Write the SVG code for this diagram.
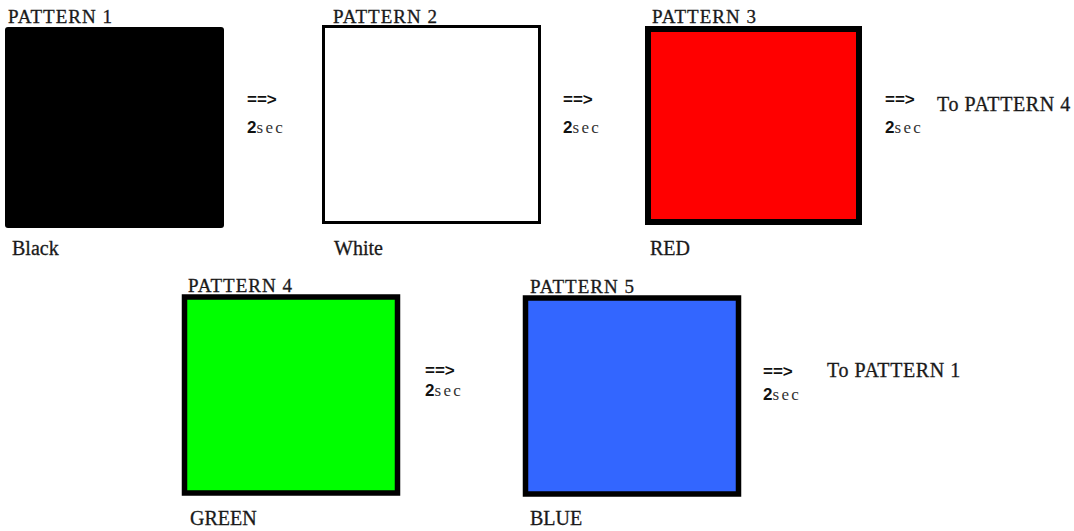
<svg xmlns="http://www.w3.org/2000/svg" width="1074" height="531" viewBox="0 0 1074 531">
<style>
.t{font-family:"Liberation Serif","Times New Roman",serif;font-size:19px;letter-spacing:1px;fill:#1a1a1a;stroke:#1a1a1a;stroke-width:0.3}
.l{font-family:"Liberation Serif","Times New Roman",serif;font-size:20px;fill:#1a1a1a;stroke:#1a1a1a;stroke-width:0.3}
.g{font-family:"Liberation Serif","Times New Roman",serif;font-size:20px;letter-spacing:0.6px;fill:#1a1a1a;stroke:#1a1a1a;stroke-width:0.3}
.a{font-family:"Liberation Sans",Arial,sans-serif;font-size:17px;font-weight:bold;fill:#111}
.s{font-family:"Liberation Serif",serif;font-size:17px;letter-spacing:2.3px;fill:#333}
.n{font-family:"Liberation Sans",Arial,sans-serif;font-size:17px;font-weight:bold;fill:#111}
</style>
<rect width="1074" height="531" fill="#fff"/>
<g id="p1">
<text class="t" x="8" y="23">PATTERN 1</text>
<rect x="5" y="27" width="219" height="201" rx="3" fill="#000"/>
<text class="l" x="12" y="255">Black</text>
</g>
<g id="p2">
<text class="t" x="333" y="23">PATTERN 2</text>
<rect x="323.5" y="26.5" width="216" height="196" fill="#fff" stroke="#000" stroke-width="3"/>
<text class="l" x="334" y="255">White</text>
</g>
<g id="p3">
<text class="t" x="652" y="23">PATTERN 3</text>
<rect x="648" y="29" width="211" height="193" fill="#ff0000" stroke="#000" stroke-width="6"/>
<text class="l" x="650" y="255">RED</text>
</g>
<g id="p4">
<text class="t" x="188" y="292">PATTERN 4</text>
<rect x="184.5" y="297" width="213" height="196" fill="#00ff00" stroke="#000" stroke-width="5.5"/>
<text class="l" x="190" y="525">GREEN</text>
</g>
<g id="p5">
<text class="t" x="530" y="293">PATTERN 5</text>
<rect x="525.5" y="298" width="213" height="196" fill="#3366ff" stroke="#000" stroke-width="5.5"/>
<text class="l" x="530" y="525">BLUE</text>
</g>
<g id="connectors">
<text class="a" x="247" y="105">==&gt;</text>
<text x="247" y="133"><tspan class="n">2</tspan><tspan class="s">sec</tspan></text>
<text class="a" x="563" y="105">==&gt;</text>
<text x="563" y="133"><tspan class="n">2</tspan><tspan class="s">sec</tspan></text>
<text class="a" x="885" y="105">==&gt;</text>
<text x="885" y="133"><tspan class="n">2</tspan><tspan class="s">sec</tspan></text>
<text class="g" x="937" y="111">To PATTERN 4</text>
<text class="a" x="425" y="376">==&gt;</text>
<text x="425" y="396"><tspan class="n">2</tspan><tspan class="s">sec</tspan></text>
<text class="a" x="763" y="377">==&gt;</text>
<text x="763" y="400"><tspan class="n">2</tspan><tspan class="s">sec</tspan></text>
<text class="g" x="827" y="377">To PATTERN 1</text>
</g>
</svg>
